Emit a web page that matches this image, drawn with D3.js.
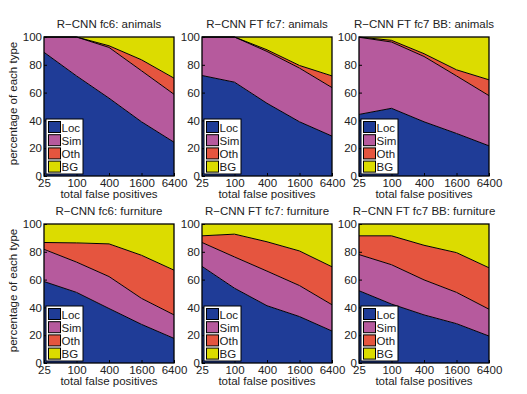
<!DOCTYPE html>
<html>
<head>
<meta charset="utf-8">
<script src="https://cdn.jsdelivr.net/npm/d3@7"></script>
<style>
  body { margin: 0; background: #fff; }
  svg text { font-family: "Liberation Sans", Arial, sans-serif; fill: #222; }
</style>
</head>
<body>
<svg id="chart" width="527" height="394"></svg>
<script>
(function() {
    // Data (percent of each error type) per panel
    const categories = ["Loc", "Sim", "Oth", "BG"];
    const colors = ["#1f3c97", "#b65a9d", "#e5553f", "#dcdc00"];
    const xValues = [25, 100, 400, 1600, 6400];
    const yTicks = [0, 20, 40, 60, 80, 100];
    const titles = [
        "R\u2212CNN fc6: animals", "R\u2212CNN FT fc7: animals", "R\u2212CNN FT fc7 BB: animals",
        "R\u2212CNN fc6: furniture", "R\u2212CNN FT fc7: furniture", "R\u2212CNN FT fc7 BB: furniture"
    ];
    const loc = [
        [89, 72, 56, 39, 24.3],
        [72.3, 67.5, 52.3, 39, 28.7],
        [44.3, 48.7, 39, 30.6, 21.7],
        [58.6, 50.8, 39.2, 27.8, 17.7],
        [69.5, 53.8, 41.2, 33.4, 23],
        [52, 42.4, 34.6, 28.3, 19.4]
    ];
    const sim = [
        [11, 28, 36.5, 36.7, 34.5],
        [27.7, 32.5, 37.3, 38.6, 34.9],
        [55.5, 47.7, 47, 41.4, 36.1],
        [23.2, 21.8, 23, 18.7, 16.9],
        [17.2, 22.5, 24.9, 22.3, 18.9],
        [26, 28.3, 25.2, 22.5, 19.3]
    ];
    const oth = [
        [0, 0, 1.2, 7.9, 11.6],
        [0, 0, 1.2, 1.9, 8.4],
        [0.2, 1.2, 2, 4.4, 11.4],
        [4.9, 13.8, 23.5, 31, 32.2],
        [4.8, 16.4, 21.1, 24.9, 27.3],
        [13.5, 20.8, 24.9, 28.6, 29.8]
    ];
    const bg = [
        [0, 0, 6.3, 16.4, 29.6],
        [0, 0, 9.2, 20.5, 28],
        [0, 2.4, 12, 23.6, 30.8],
        [13.3, 13.6, 14.3, 22.5, 33.2],
        [8.5, 7.3, 12.8, 19.4, 30.8],
        [8.5, 8.5, 15.3, 20.6, 31.5]
    ];

    const svg = d3.select("#chart");

    const panelLeft = [44, 202, 359];
    const panelTop = [37, 224];
    const pw = 130, ph = 139;

    const stack = d3.stack().keys(categories);

    titles.forEach((title, p) => {
        const col = p % 3, row = Math.floor(p / 3);
        const g = svg.append("g")
            .attr("transform", `translate(${panelLeft[col]},${panelTop[row]})`);

        const x = d3.scaleLog().base(4).domain([25, 6400]).range([0, pw]);
        const y = d3.scaleLinear().domain([0, 100]).range([ph, 0]);

        const rows = xValues.map((xv, i) => ({
            x: xv, Loc: loc[p][i], Sim: sim[p][i], Oth: oth[p][i], BG: bg[p][i]
        }));
        const series = stack(rows);

        const area = d3.area()
            .x(d => x(d.data.x))
            .y0(d => y(d[0]))
            .y1(d => y(Math.min(100, d[1])));

        g.selectAll(".area")
            .data(series)
            .join("path")
            .attr("class", "area")
            .attr("fill", (d, i) => colors[i])
            .attr("d", area);

        // the top of the BG layer is always 100
        const lineGen = d3.line()
            .x(d => x(d.data.x))
            .y(d => y(Math.min(100, d[1])));
        g.selectAll(".bound")
            .data(series.slice(0, 3))
            .join("path")
            .attr("class", "bound")
            .attr("fill", "none")
            .attr("stroke", "#000")
            .attr("stroke-width", 1)
            .attr("d", lineGen);

        // axes box
        g.append("rect")
            .attr("width", pw).attr("height", ph)
            .attr("fill", "none").attr("stroke", "#000").attr("stroke-width", 1.3);

        const yAxis = d3.axisLeft(y).tickValues(yTicks).tickSize(-3).tickPadding(2);
        g.append("g").call(yAxis)
            .call(a => a.select(".domain").remove())
            .selectAll("text").attr("font-size", 11.5).attr("fill", "#222");

        const xAxis = d3.axisBottom(x).tickValues(xValues).tickFormat(d3.format("d")).tickSize(-3).tickPadding(4);
        g.append("g").attr("transform", `translate(0,${ph})`).call(xAxis)
            .call(a => a.select(".domain").remove())
            .selectAll("text").attr("font-size", 11.5).attr("fill", "#222").attr("dy", "0.6em");

        g.append("text")
            .attr("x", pw / 2).attr("y", -9)
            .attr("text-anchor", "middle")
            .attr("font-size", 11.5)
            .text(title);

        g.append("text")
            .attr("x", pw / 2).attr("y", ph + 22)
            .attr("text-anchor", "middle")
            .attr("font-size", 11.5)
            .text("total false positives");

        if (col === 0) {
            g.append("text")
                .attr("transform", `translate(-27,${ph / 2 - 3}) rotate(-90)`)
                .attr("text-anchor", "middle")
                .attr("font-size", 11.5)
                .text("percentage of each type");
        }

        // legend
        const lg = g.append("g").attr("transform", `translate(2,${ph - 57})`);
        lg.append("rect")
            .attr("width", 37).attr("height", 55)
            .attr("fill", "#fff").attr("stroke", "#000").attr("stroke-width", 1);
        categories.forEach((c, i) => {
            lg.append("rect")
                .attr("x", 2.5).attr("y", 2.5 + i * 13.2)
                .attr("width", 12).attr("height", 11)
                .attr("fill", colors[i]).attr("stroke", "#000").attr("stroke-width", 1);
            lg.append("text")
                .attr("x", 15.5).attr("y", 12.5 + i * 13.2)
                .attr("font-size", 11.5)
                .text(c);
        });
    });
})();
</script>
</body>
</html>
